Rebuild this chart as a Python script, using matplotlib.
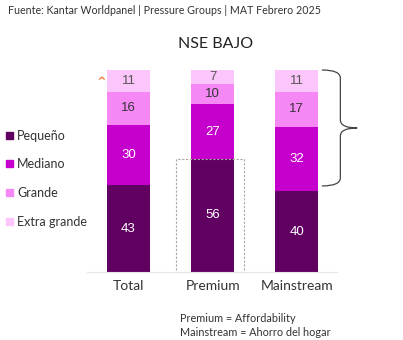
import matplotlib
matplotlib.use("Agg")
import matplotlib.pyplot as plt
from matplotlib.path import Path
from matplotlib.patches import PathPatch, Rectangle

plt.rcParams['font.family'] = ['Lato', 'DejaVu Sans']

categories = ["Total", "Premium", "Mainstream"]
series_names = ["Pequeño", "Mediano", "Grande", "Extra grande"]
pequeno = [43, 56, 40]
mediano = [30, 27, 32]
grande = [16, 10, 17]
extra_grande = [11, 7, 11]
series = [pequeno, mediano, grande, extra_grande]
colors = ["#600060", "#C600CC", "#F588F5", "#FCC6FC"]
text_colors = ["white", "white", "#333333", "#555555"]

W, H = 403, 340
fig = plt.figure(figsize=(W / 100, H / 100), dpi=100)
ax = fig.add_axes([87 / W, (H - 272) / H, 250 / W, 202 / H])

x = list(range(len(categories)))
bottoms = [0] * len(categories)
for vals, c, tc in zip(series, colors, text_colors):
    ax.bar(x, vals, bottom=bottoms, width=0.51, color=c, edgecolor='none')
    for xi, v, b in zip(x, vals, bottoms):
        ax.text(xi, b + v / 2, str(v), ha='center', va='center', color=tc,
                fontsize=9.5, family=['Liberation Sans', 'DejaVu Sans'])
    bottoms = [b + v for b, v in zip(bottoms, vals)]

ax.set_xlim(-0.494, 2.48)
ax.set_ylim(0, 100)
for s in ['top', 'left', 'right']:
    ax.spines[s].set_visible(False)
ax.spines['bottom'].set_color('#E6E6E6')
ax.spines['bottom'].set_linewidth(0.8)
ax.set_yticks([])
ax.set_xticks(x)
ax.set_xticklabels(categories, fontsize=10, color='#333333')
ax.tick_params(axis='x', length=0, pad=6)

# dashed box around Premium Pequeño
ax.add_patch(Rectangle((0.565, 0), 0.81, pequeno[1], fill=False,
                       edgecolor='#A8A8A0', linestyle=(0, (2, 1.5)),
                       linewidth=0.8, clip_on=False))

# curly brace on the right
xl, xm, xt = 2.30, 2.52, 2.72
ytop, ybot, ymid = 100, 42.6, 71.3
verts = [(xl, ytop), (xm, ytop), (xm, ytop - 4),
         (xm, ymid + 4),
         (xm, ymid), (xt, ymid),
         (xm, ymid), (xm, ymid - 4),
         (xm, ybot + 4),
         (xm, ybot), (xl, ybot)]
codes = [Path.MOVETO, Path.CURVE3, Path.CURVE3,
         Path.LINETO,
         Path.CURVE3, Path.CURVE3,
         Path.CURVE3, Path.CURVE3,
         Path.LINETO,
         Path.CURVE3, Path.CURVE3]
ax.add_patch(PathPatch(Path(verts, codes), fill=False, edgecolor='#444444',
                       linewidth=0.9, clip_on=False))

# small orange mark
ax.plot([-0.345, -0.315, -0.29], [95.5, 96.5, 95.5], color='#F08040',
        linewidth=1.0, clip_on=False)

# legend
leg_y = [136, 164, 193, 222]
for name, c, yy in zip(series_names, colors, leg_y):
    fig.patches.append(Rectangle((6 / W, (H - yy - 3) / H), 7 / W, 7 / H,
                                 transform=fig.transFigure, color=c))
    fig.text(17 / W, (H - yy) / H, name, fontsize=9, color='#333333',
             va='center', ha='left')

fig.text(8 / W, (H - 11) / H,
         "Fuente: Kantar Worldpanel | Pressure Groups | MAT Febrero 2025",
         fontsize=7.7, color='#333333', va='center', ha='left')
fig.text(216 / W, (H - 44) / H, "NSE BAJO", fontsize=11.5, color='#222222',
         va='center', ha='center')
fig.text(180 / W, (H - 319) / H, "Premium = Affordability", fontsize=7.8,
         color='#333333', va='center', ha='left')
fig.text(180 / W, (H - 332) / H, "Mainstream = Ahorro del hogar", fontsize=7.8,
         color='#333333', va='center', ha='left')

fig.savefig("out.png", dpi=100)
